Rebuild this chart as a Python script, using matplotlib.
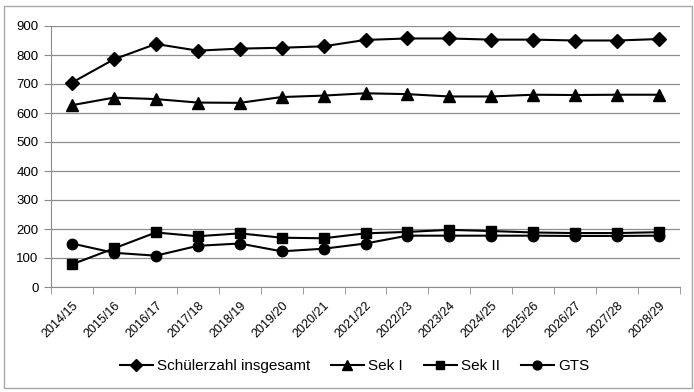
import matplotlib.pyplot as plt
from matplotlib.patches import Rectangle

years = ["2014/15", "2015/16", "2016/17", "2017/18", "2018/19", "2019/20", "2020/21",
         "2021/22", "2022/23", "2023/24", "2024/25", "2025/26", "2026/27", "2027/28", "2028/29"]
gesamt = [705, 785, 838, 815, 822, 825, 830, 852, 857, 857, 853, 853, 850, 850, 855]
sek1 = [627, 653, 648, 636, 635, 655, 660, 668, 665, 657, 657, 663, 662, 663, 663]
sek2 = [78, 133, 188, 175, 185, 170, 168, 185, 190, 197, 193, 188, 186, 186, 189]
gts = [150, 118, 108, 142, 150, 123, 132, 150, 177, 177, 177, 177, 176, 176, 177]
y_ticks = list(range(0, 1000, 100))

plt.rcParams['font.family'] = ['Liberation Sans', 'DejaVu Sans']

fig = plt.figure(figsize=(6.94, 3.92), dpi=100)
ax = fig.add_axes([51 / 694, 105 / 392, 629 / 694, 261 / 392])

# frame around the whole chart
fig.patches.append(Rectangle((4 / 694, 4 / 392), 688 / 694, 382 / 392, transform=fig.transFigure,
                             fill=False, edgecolor='#a6a6a6', linewidth=1))

x = list(range(len(years)))
series = [(gesamt, 'D', 7, 'Schülerzahl insgesamt'),
          (sek1, '^', 8, 'Sek I'),
          (sek2, 's', 7, 'Sek II'),
          (gts, 'o', 7.5, 'GTS')]
for vals, mk, ms, lab in series:
    ax.plot(x, vals, color='black', linewidth=1.5, marker=mk, markersize=ms, label=lab)

ax.set_xlim(-0.5, len(years) - 0.5)
ax.set_ylim(0, 900)
ax.set_yticks(y_ticks)
ax.set_yticklabels([str(v) for v in y_ticks], fontsize=9.5)
ax.yaxis.grid(True, color='#8c8c8c', linewidth=0.9)
ax.set_axisbelow(True)

# categories in the middle, ticks on the boundaries
ax.set_xticks(x)
ax.set_xticklabels(years, rotation=45, ha='right', rotation_mode='anchor', fontsize=9)
ax.tick_params(axis='x', length=0, pad=9)
ax.set_xticks([i - 0.5 for i in range(len(years) + 1)], minor=True)
ax.tick_params(axis='x', which='minor', length=5, color='#8c8c8c')
ax.tick_params(axis='y', length=5, color='#8c8c8c', pad=4)

for side in ['top', 'right']:
    ax.spines[side].set_visible(False)
for side in ['left', 'bottom']:
    ax.spines[side].set_color('#8c8c8c')

fig.legend(loc='center', bbox_to_anchor=(0.511, 26 / 392), ncol=4, frameon=False,
           handlelength=2.15, handletextpad=0.3, columnspacing=1.35, markerscale=0.85,
           prop={'family': ['Liberation Sans Narrow', 'Liberation Sans', 'DejaVu Sans'], 'size': 11})

fig.savefig('out.png', dpi=100)
